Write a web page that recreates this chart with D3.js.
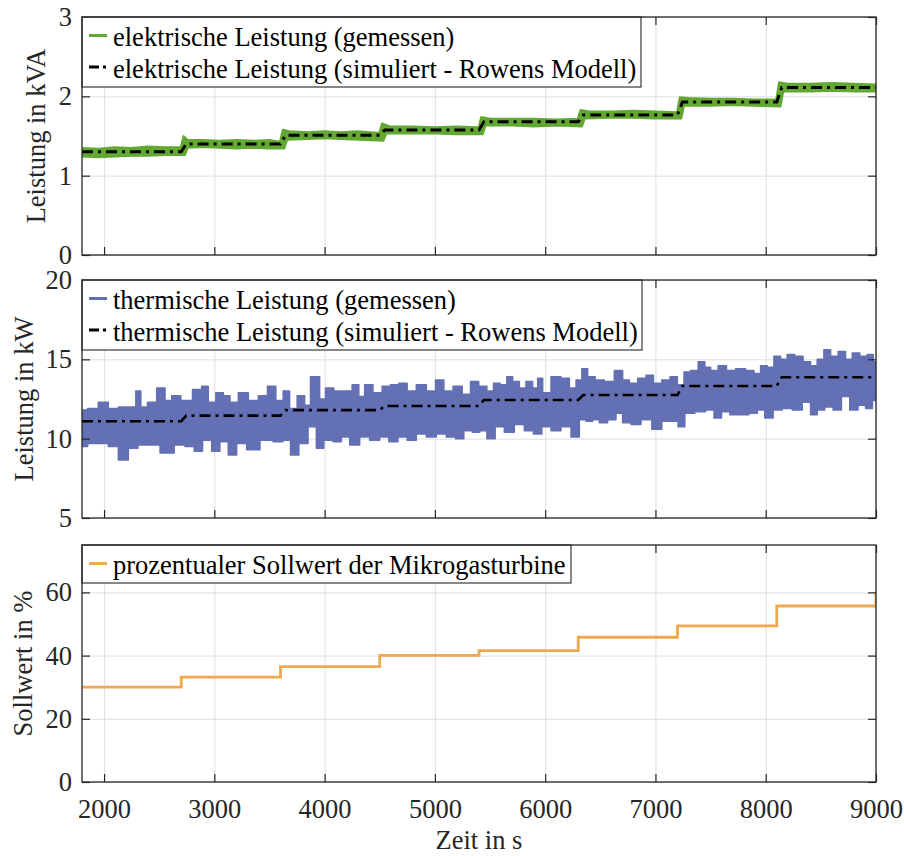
<!DOCTYPE html>
<html><head><meta charset="utf-8">
<script src="https://cdn.jsdelivr.net/npm/d3@7"></script>
</head><body style="margin:0"><svg id="c" width="904" height="856"></svg>
<script>
// ---------------- data ----------------
const xTicks = [2000,3000,4000,5000,6000,7000,8000,9000];
const stepTimes = [1800,2700,3600,4500,5400,6300,7200,8100];
const elecSim  = [1.30,1.40,1.51,1.575,1.68,1.765,1.93,2.11];
const thermSim = [11.1,11.45,11.8,12.06,12.44,12.75,13.32,13.87];
const setpoint = [30,33.2,36.5,40.1,41.6,45.8,49.4,55.7];
const setpointEnd = [9000,60];
const elecTicks = [0,1,2,3];
const thermTicks = [5,10,15,20];
const setTicks = [0,20,40,60];

const elecUpper = [[1800,1.35],[1950,1.34],[2100,1.36],[2250,1.35],[2400,1.37],[2550,1.36],[2695,1.36],[2720,1.50],[2760,1.45],[2900,1.45],[3050,1.44],[3200,1.45],[3350,1.44],[3500,1.45],[3595,1.43],[3620,1.58],[3680,1.56],[3850,1.55],[4000,1.56],[4150,1.55],[4300,1.56],[4495,1.54],[4520,1.66],[4600,1.62],[4800,1.62],[5000,1.61],[5200,1.62],[5395,1.61],[5420,1.74],[5500,1.72],[5700,1.72],[5900,1.72],[6100,1.71],[6295,1.72],[6320,1.83],[6400,1.81],[6600,1.81],[6800,1.82],[7000,1.81],[7195,1.80],[7220,1.99],[7300,1.98],[7500,1.97],[7700,1.97],[7900,1.96],[8095,1.96],[8120,2.18],[8200,2.16],[8400,2.16],[8600,2.17],[8800,2.16],[9000,2.15]];
const elecLower = [[1800,1.24],[1950,1.23],[2100,1.24],[2250,1.25],[2400,1.25],[2550,1.26],[2735,1.26],[2760,1.35],[2900,1.36],[3050,1.35],[3200,1.34],[3350,1.35],[3500,1.34],[3635,1.34],[3660,1.45],[3850,1.46],[4000,1.47],[4150,1.46],[4300,1.45],[4535,1.44],[4560,1.53],[4800,1.53],[5000,1.53],[5200,1.52],[5435,1.52],[5460,1.63],[5700,1.63],[5900,1.62],[6100,1.63],[6335,1.62],[6360,1.72],[6600,1.73],[6800,1.73],[7000,1.72],[7235,1.72],[7260,1.88],[7500,1.88],[7700,1.89],[7900,1.88],[8135,1.87],[8160,2.06],[8400,2.06],[8600,2.07],[8800,2.06],[9000,2.06]];

const thermUpper = [[1800,11.8],[1903,11.9],[1993,12.3],[2084,11.9],[2175,12.0],[2265,12.0],[2311,13.0],[2356,12.0],[2432,12.3],[2523,13.2],[2583,12.4],[2643,12.7],[2749,12.4],[2855,13.1],[2915,13.3],[2976,12.3],[3051,12.9],[3112,12.7],[3172,12.3],[3263,12.9],[3353,12.4],[3444,12.7],[3520,13.3],[3595,12.4],[3653,13.0],[3713,11.9],[3789,12.7],[3849,12.1],[3895,13.9],[3940,13.9],[3970,12.5],[4046,13.2],[4121,13.0],[4212,13.0],[4287,13.4],[4333,12.65],[4393,13.4],[4484,12.9],[4559,13.3],[4635,13.4],[4711,13.5],[4786,13.0],[4877,13.4],[4968,13.0],[5044,13.7],[5119,13.0],[5210,13.3],[5285,12.8],[5361,13.6],[5434,13.3],[5509,13.0],[5554,13.5],[5630,13.4],[5675,13.9],[5736,13.6],[5796,13.2],[5856,13.6],[5917,13.2],[5947,13.8],[6008,12.9],[6098,13.9],[6189,13.8],[6250,13.2],[6310,13.7],[6355,14.4],[6416,13.9],[6491,13.7],[6582,13.6],[6672,14.3],[6733,13.7],[6794,13.5],[6884,13.8],[6944,14.0],[7020,13.5],[7096,13.7],[7168,13.9],[7229,13.4],[7289,14.2],[7350,14.3],[7425,14.85],[7470,14.5],[7531,14.3],[7606,14.6],[7682,14.3],[7773,14.4],[7863,14.3],[7923,14.1],[7984,14.6],[8044,14.5],[8105,15.2],[8165,15.0],[8225,15.3],[8301,15.2],[8376,14.85],[8437,14.6],[8497,15.0],[8558,15.6],[8619,15.2],[8694,15.5],[8754,15.0],[8815,15.4],[8890,15.2],[8951,15.3],[9000,14.85]];
const thermLower = [[1800,9.5],[1903,9.7],[1993,9.7],[2084,9.5],[2175,8.65],[2265,9.4],[2350,9.6],[2432,9.6],[2583,9.1],[2689,9.6],[2780,9.5],[2855,9.2],[2931,9.9],[3021,9.2],[3080,9.8],[3172,8.97],[3233,9.7],[3353,9.3],[3475,9.9],[3590,9.8],[3653,9.9],[3729,8.97],[3804,9.7],[3895,10.75],[3955,9.4],[4031,9.9],[4121,9.8],[4182,10.1],[4273,9.6],[4363,10.1],[4454,9.9],[4545,10.1],[4620,9.8],[4711,10.1],[4786,9.9],[4877,10.3],[4968,10.1],[5058,10.3],[5149,10.1],[5225,10.0],[5300,10.5],[5380,10.4],[5434,10.5],[5509,10.0],[5584,10.75],[5675,10.4],[5766,10.9],[5856,10.5],[5932,10.3],[6008,10.75],[6098,10.5],[6189,10.75],[6280,10.1],[6340,11.2],[6400,11.1],[6461,11.2],[6521,11.0],[6612,11.2],[6672,11.6],[6733,11.0],[6824,10.9],[6914,11.2],[7020,10.6],[7096,11.1],[7180,11.1],[7229,10.75],[7304,11.6],[7410,11.7],[7501,11.8],[7561,11.3],[7637,11.7],[7712,11.5],[7803,11.5],[7893,11.6],[7954,11.8],[8029,11.3],[8105,11.8],[8195,11.9],[8286,11.8],[8376,12.3],[8437,11.5],[8497,11.8],[8573,12.0],[8649,11.8],[8724,12.65],[8800,11.8],[8875,12.1],[8936,11.9],[9000,12.4]];

// ---------------- drawing ----------------
const FONT = "26.5px";
const FAM = "Liberation Serif";
const TXT = "#262626";
const svg = d3.select("#c");
const X0 = 82, X1 = 876;
const x = d3.scaleLinear().domain([1800,9000]).range([X0,X1]);
const GREEN = "#62a833", BLUE = "#6470b4", ORANGE = "#eea94f";
const RAMP = 45;
const fmt = d3.format("d");

function simPoints(vals){
  const pts = [[stepTimes[0], vals[0]]];
  for(let i=1;i<stepTimes.length;i++){
    pts.push([stepTimes[i], vals[i-1]]);
    pts.push([stepTimes[i]+RAMP, vals[i]]);
  }
  pts.push([9000, vals[vals.length-1]]);
  return pts;
}
function styleText(sel){ return sel.style("font-family",FAM).style("font-size",FONT); }

function panel(cfg){
  const {top,bottom,domain,ticks,id} = cfg;
  const y = d3.scaleLinear().domain(domain).range([bottom,top]);
  const g = svg.append("g");
  const h = bottom-top, w = X1-X0;
  const gx = g.append("g").attr("transform",`translate(0,${bottom})`)
    .call(d3.axisBottom(x).tickValues(xTicks).tickSize(-h).tickFormat(""));
  const gy = g.append("g").attr("transform",`translate(${X0},0)`)
    .call(d3.axisLeft(y).tickValues(ticks).tickSize(-w).tickFormat(""));
  [gx,gy].forEach(a=>{a.select(".domain").remove();a.selectAll("line").attr("stroke","#dfdfdf").attr("stroke-width",1);});
  svg.append("clipPath").attr("id","clip"+id).append("rect")
     .attr("x",X0).attr("y",top).attr("width",w).attr("height",h);
  const data = g.append("g").attr("clip-path",`url(#clip${id})`);
  cfg.draw(data, y);
  const axes = [
    [d3.axisBottom(x).tickValues(xTicks), `translate(0,${bottom})`, cfg.xLabels],
    [d3.axisTop(x).tickValues(xTicks), `translate(0,${top})`, false],
    [d3.axisLeft(y).tickValues(ticks), `translate(${X0},0)`, true],
    [d3.axisRight(y).tickValues(ticks), `translate(${X1},0)`, false]
  ];
  axes.forEach(([ax,tr,lab],k)=>{
    ax.tickSizeInner(-8).tickSizeOuter(0);
    if(k===0) ax.tickPadding(17);
    if(k===2) ax.tickPadding(10);
    ax.tickFormat(lab ? fmt : "");
    const a = g.append("g").attr("transform",tr).call(ax);
    a.select(".domain").remove();
    a.attr("font-family",FAM).attr("font-size",26.5);
    a.selectAll("line").attr("stroke",TXT).attr("stroke-width",1.2);
    styleText(a.selectAll("text").attr("fill",TXT));
  });
  const leg = g.append("g");
  const rowH = 31.5;
  const bh = cfg.legend.length===2 ? 70 : 38;
  leg.append("rect").attr("x",X0).attr("y",top).attr("width",cfg.legendW).attr("height",bh)
     .attr("fill","#fff").attr("stroke",TXT).attr("stroke-width",1.1);
  cfg.legend.forEach((e,i)=>{
    const cy = top + 18.5 + i*rowH;
    const l = leg.append("line").attr("x1",X0+7).attr("x2",X0+25).attr("y1",cy).attr("y2",cy)
      .attr("stroke",e.color).attr("stroke-width",3);
    if(e.dash) l.attr("stroke-dasharray","10,4,3,4").attr("x2",X0+28);
    styleText(leg.append("text").attr("x",X0+31).attr("y",cy+10.5).attr("fill","#000")).text(e.text);
  });
  g.append("rect").attr("x",X0).attr("y",top).attr("width",w).attr("height",h)
    .attr("fill","none").attr("stroke",TXT).attr("stroke-width",1.3);
  styleText(g.append("text").attr("transform",`translate(${cfg.labelX},${(top+bottom)/2}) rotate(-90)`)
    .attr("text-anchor","middle").attr("fill",TXT)).text(cfg.ylabel);
}

const bandLine = (y)=> d3.line().x(d=>x(d[0])).y(d=>y(d[1])).curve(d3.curveStep);
const simLine = (y)=> d3.line().x(d=>x(d[0])).y(d=>y(d[1]));

panel({id:1, top:17, bottom:255, domain:[0,3], ticks:elecTicks, xLabels:false,
  ylabel:"Leistung in kVA", labelX:44.5, legendW:559,
  legend:[{color:GREEN,text:"elektrische Leistung (gemessen)"},
          {color:"#000",dash:true,text:"elektrische Leistung (simuliert - Rowens Modell)"}],
  draw:(g,y)=>{
    const poly = elecUpper.concat(elecLower.slice().reverse());
    g.append("path").attr("d",d3.line().x(d=>x(d[0])).y(d=>y(d[1]))(poly)+"Z").attr("fill",GREEN)
      .attr("stroke",GREEN).attr("stroke-width",1.8).attr("stroke-linejoin","round");
    g.append("path").attr("d",simLine(y)(simPoints(elecSim))).attr("fill","none")
      .attr("stroke","#000").attr("stroke-width",3).attr("stroke-dasharray","11,5,3,5");
  }});

panel({id:2, top:280, bottom:518, domain:[5,20], ticks:thermTicks, xLabels:false,
  ylabel:"Leistung in kW", labelX:32.5, legendW:560,
  legend:[{color:BLUE,text:"thermische Leistung (gemessen)"},
          {color:"#000",dash:true,text:"thermische Leistung (simuliert - Rowens Modell)"}],
  draw:(g,y)=>{
    const poly = thermUpper.concat(thermLower.slice().reverse());
    g.append("path").attr("d",bandLine(y)(poly)+"Z").attr("fill",BLUE)
      .attr("stroke",BLUE).attr("stroke-width",1.5).attr("stroke-linejoin","round");
    g.append("path").attr("d",simLine(y)(simPoints(thermSim))).attr("fill","none")
      .attr("stroke","#000").attr("stroke-width",2.6).attr("stroke-dasharray","11,5,3,5");
  }});

panel({id:3, top:545, bottom:782, domain:[0,75], ticks:setTicks, xLabels:true,
  ylabel:"Sollwert in %", labelX:31.5, legendW:489,
  legend:[{color:ORANGE,text:"prozentualer Sollwert der Mikrogasturbine"}],
  draw:(g,y)=>{
    const pts = stepTimes.map((t,i)=>[t,setpoint[i]]).concat([setpointEnd]);
    g.append("path").attr("d",d3.line().x(d=>x(d[0])).y(d=>y(d[1])).curve(d3.curveStepAfter)(pts))
      .attr("fill","none").attr("stroke",ORANGE).attr("stroke-width",2.8);
  }});

styleText(svg.append("text").attr("x",(X0+X1)/2).attr("y",848.5).attr("text-anchor","middle")
  .attr("fill",TXT)).text("Zeit in s");
</script>
</body></html>
